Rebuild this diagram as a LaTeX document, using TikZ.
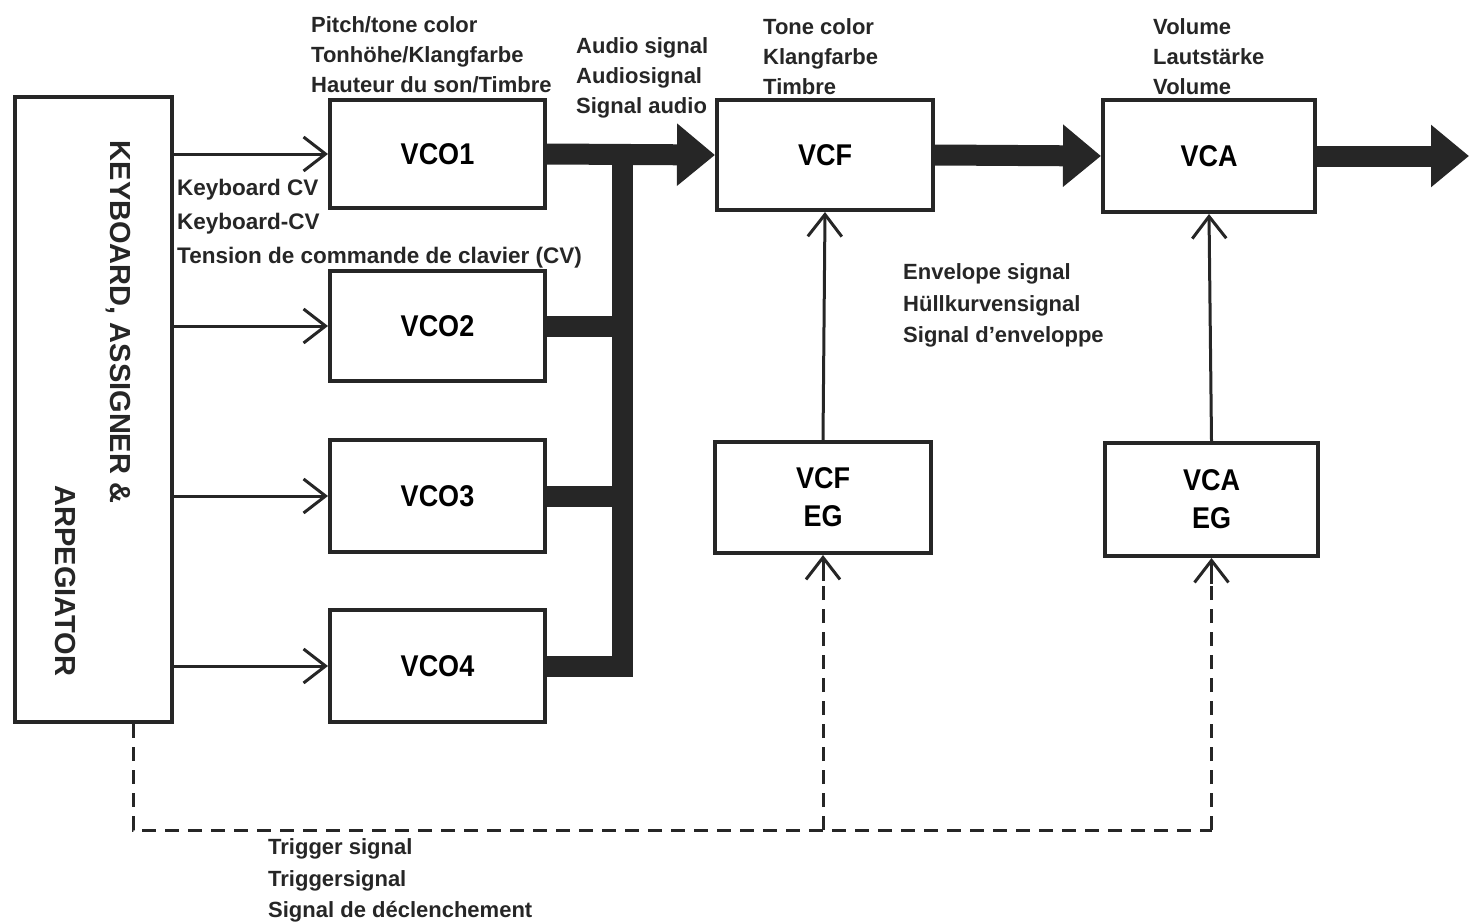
\documentclass[tikz,border=0pt]{standalone}
\usepackage{fontspec}
\setmainfont{Liberation Sans}
\usetikzlibrary{arrows.meta}
\newcommand\boxlbl[1]{\scalebox{0.9}[1]{#1}}
\begin{document}
\begin{tikzpicture}[x=1pt,y=-1pt,
  blk/.style={draw=black!85, line width=4pt, inner sep=0pt, align=center,
    font=\fontsize{30}{38}\selectfont\bfseries},
  lbl/.style={inner sep=0pt, anchor=west, align=left, text=black!85,
    font=\fontsize{22}{30}\selectfont\bfseries},
  thin/.style={draw=black!85, line width=3pt, -{Straight Barb[length=22pt,width=34pt,line width=3pt]}},
  bus/.style={draw=black!85, line width=21pt},
  bigtip/.style={-{Triangle[length=38pt,width=60pt]}},
  trig/.style={draw=black!85, line width=3pt, dash pattern=on 14pt off 9pt}
]
\useasboundingbox (0,0) rectangle (1469,923);
% blocks
\node[blk, minimum width=157pt, minimum height=625pt] (kb) at (93.5,409.5) {};
\node[inner sep=0pt, rotate=-90, font=\fontsize{29}{34}\selectfont\bfseries, text=black!85] (kbt1) at (118,322) {KEYBOARD, ASSIGNER \&};
\node[inner sep=0pt, rotate=-90, font=\fontsize{29}{34}\selectfont\bfseries, text=black!85] (kbt2) at (65,581) {ARPEGIATOR};
\node[blk, minimum width=215pt, minimum height=108pt] (vco1) at (437.5,154) {\boxlbl{VCO1}};
\node[blk, minimum width=215pt, minimum height=110pt] (vco2) at (437.5,326) {\boxlbl{VCO2}};
\node[blk, minimum width=215pt, minimum height=112pt] (vco3) at (437.5,496) {\boxlbl{VCO3}};
\node[blk, minimum width=215pt, minimum height=112pt] (vco4) at (437.5,666) {\boxlbl{VCO4}};
\node[blk, minimum width=216pt, minimum height=110pt] (vcf) at (825,155) {\boxlbl{VCF}};
\node[blk, minimum width=212pt, minimum height=112pt] (vca) at (1209,156) {\boxlbl{VCA}};
\node[blk, minimum width=216pt, minimum height=111pt] (vcfeg) at (823,497.5) {\boxlbl{VCF}\\\boxlbl{EG}};
\node[blk, minimum width=213pt, minimum height=113pt] (vcaeg) at (1211.5,499.5) {\boxlbl{VCA}\\\boxlbl{EG}};
\coordinate (out) at (1469,156);
\coordinate (busx) at (622,0);
\coordinate (tc) at (133,830);
% keyboard CV
\foreach \v in {vco1,vco2,vco3,vco4}
  \draw[thin] (kb.east |- \v.west) -- (\v.west);
% audio bus
\draw[bus, line cap=rect] (busx |- vco1.east) -- (busx |- vco4.east);
\foreach \v in {vco2,vco3,vco4}
  \draw[bus] (\v.east) -- (busx |- \v.east);
\draw[bus, bigtip] (vco1.east) -- (vcf.west);
\draw[bus, bigtip] (vcf.east) -- (vca.west);
\draw[bus, bigtip] (vca.east) -- (out);
% envelope
\draw[thin] (vcfeg.north) -- (vcf.south);
\draw[thin] (vcaeg.north) -- (vca.south);
% trigger
\draw[trig] (tc |- kb.south) -- (tc) -- (tc -| vcaeg.south);
\draw[trig] (tc -| vcaeg.south) -- ([yshift=-22pt]vcaeg.south);
\draw[thin] ([yshift=-26pt]vcaeg.south) -- (vcaeg.south);
\draw[trig] (tc -| vcfeg.south) -- ([yshift=-22pt]vcfeg.south);
\draw[thin] ([yshift=-26pt]vcfeg.south) -- (vcfeg.south);
% labels
\node[lbl] (l1) at (311,55) {Pitch/tone color\\Tonhöhe/Klangfarbe\\Hauteur du son/Timbre};
\node[lbl] (l2) at (576,78) {Audio signal\\Audiosignal\\Signal audio};
\node[lbl, font=\fontsize{22.5}{34}\selectfont\bfseries] (l3) at (177,224) {Keyboard CV\\Keyboard-CV\\Tension de commande de clavier (CV)};
\node[lbl] (l4) at (763,57) {Tone color\\Klangfarbe\\Timbre};
\node[lbl, font=\fontsize{22}{31.5}\selectfont\bfseries] (l5) at (903,305.5) {Envelope signal\\Hüllkurvensignal\\Signal d'enveloppe};
\node[lbl] (l6) at (1153,57) {Volume\\Lautstärke\\Volume};
\node[lbl, font=\fontsize{22}{31.5}\selectfont\bfseries] (l7) at (268,880.5) {Trigger signal\\Triggersignal\\Signal de déclenchement};
\end{tikzpicture}
\end{document}
